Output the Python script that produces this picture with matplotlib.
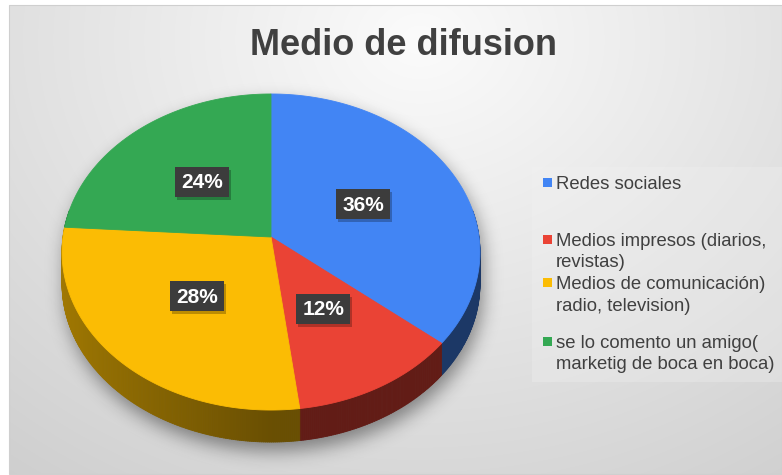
import numpy as np
import matplotlib.pyplot as plt
from matplotlib.patches import Polygon, Rectangle
from matplotlib.collections import PolyCollection
from matplotlib.path import Path
from matplotlib.colors import to_rgb

# chart data
title = 'Medio de difusion'
categories = ['Redes sociales',
              'Medios impresos (diarios,\nrevistas)',
              'Medios de comunicación)\nradio, television)',
              'se lo comento un amigo(\nmarketig de boca en boca)']
shares = [36, 12, 28, 24]
colors = ['#4285F4', '#EA4335', '#FBBC04', '#34A853']

plt.rcParams['font.family'] = ['Liberation Sans', 'DejaVu Sans']

W, H = 782, 475
fig = plt.figure(figsize=(W / 100, H / 100), dpi=100)
ax = fig.add_axes([0, 0, 1, 1])
ax.set_xlim(0, W)
ax.set_ylim(H, 0)
ax.axis('off')

# chart area (pixel units), pie geometry
x0, x1, y0, y1 = 9, 782, 5, 474
cx, cy = 271, 237
rx, ry = 208, 156.6
persp = 0.095
depth = 32


def project(t_deg, f=1.0):
    t = np.radians(t_deg)
    X = f * np.cos(t)
    Y = f * np.sin(t)
    w = 1 + persp * Y
    return cx + rx * X / w, cy - ry * Y / w


def blur(a, s):
    k = np.exp(-0.5 * (np.arange(-3 * s, 3 * s + 1) / s) ** 2)
    k /= k.sum()
    a = np.apply_along_axis(lambda r: np.convolve(r, k, mode='same'), 0, a)
    a = np.apply_along_axis(lambda r: np.convolve(r, k, mode='same'), 1, a)
    return a


# background gradient
yy, xx = np.mgrid[y0:y1, x0:x1] + 0.5
r = np.sqrt(((xx - 420) / 580) ** 2 + ((yy - 40) / 470) ** 2)
v = np.clip(0.985 - 0.15 * r, 0, 1)
bg = np.dstack([v, v, v])
ax.imshow(bg, extent=(x0, x1, y1, y0), origin='upper', zorder=0, aspect='auto')
ax.add_patch(Rectangle((x0, y0), x1 - x0, y1 - y0, fill=False,
                       edgecolor='#cfcfcf', lw=0.8, zorder=1))

# soft shadow under the pie
ts = np.linspace(0, 360, 361)
ex, ey = project(ts)
gy, gx = np.mgrid[0:H, 0:W] + 0.5
pts = np.column_stack([gx.ravel(), gy.ravel()])
mask = np.zeros(H * W, bool)
for off in range(0, depth + 1, 4):
    path = Path(np.column_stack([ex + 3, ey + off + 9]))
    mask |= path.contains_points(pts)
mask = blur(mask.reshape(H, W).astype(float), 9)
shadow = np.zeros((H, W, 4))
shadow[..., 3] = 0.42 * mask
ax.imshow(shadow, extent=(0, W, H, 0), origin='upper', zorder=2, aspect='auto')

# slice angles, clockwise from 12 o'clock
starts, ends = [], []
a = 90.0
for s in shares:
    starts.append(a)
    a -= s * 3.6
    ends.append(a)

# side walls
for c, hi, lo in zip(colors, starts, ends):
    hi2, lo2 = min(hi, 10), max(lo, -190)
    if hi2 <= lo2:
        continue
    tt = np.linspace(hi2, lo2, max(int((hi2 - lo2) * 2), 2))
    px, py = project(tt)
    quads, fcs = [], []
    base = np.array(to_rgb(c))
    for i in range(len(tt) - 1):
        quads.append([(px[i], py[i]), (px[i + 1], py[i + 1]),
                      (px[i + 1], py[i + 1] + depth), (px[i], py[i] + depth)])
        tm = np.radians(0.5 * (tt[i] + tt[i + 1]))
        f = 0.42 + 0.22 * max(0.0, -np.cos(tm))
        fcs.append(base * f)
    ax.add_collection(PolyCollection(quads, facecolors=fcs, edgecolors=fcs,
                                     lw=0.6, zorder=3))

# top faces
for c, hi, lo in zip(colors, starts, ends):
    tt = np.linspace(hi, lo, 200)
    px, py = project(tt)
    verts = [(cx, cy)] + list(zip(px, py))
    ax.add_patch(Polygon(verts, closed=True, facecolor=c, edgecolor=c,
                         lw=0.6, zorder=4))

# percentage labels
for s, hi, lo in zip(shares, starts, ends):
    lx, ly = project(0.5 * (hi + lo), 0.5)
    bw, bh = 54, 30
    ax.add_patch(Rectangle((lx - bw / 2 + 2, ly - bh / 2 + 3), bw, bh,
                           facecolor='black', alpha=0.25, lw=0, zorder=5))
    ax.add_patch(Rectangle((lx - bw / 2, ly - bh / 2), bw, bh,
                           facecolor='#3c3c3c', lw=0, zorder=6))
    ax.text(lx, ly + 1, f'{s}%', color='white', fontsize=15,
            fontweight='bold', ha='center', va='center', zorder=7)

# title
ax.text(403, 55, title, fontsize=26, fontweight='bold', color='#404040',
        ha='center', va='baseline', zorder=7)

# legend
ax.add_patch(Rectangle((532, 167), 250, 215, facecolor='#f2f2f2', alpha=0.3,
                       lw=0, zorder=1))
baselines = [[189], [246, 267], [289, 311], [348, 369]]
for c, label, bl in zip(colors, categories, baselines):
    ax.add_patch(Rectangle((543, bl[0] - 11), 9, 9, facecolor=c, lw=0, zorder=7))
    for line, b in zip(label.split('\n'), bl):
        ax.text(556, b, line, fontsize=13.3, color='#404040',
                ha='left', va='baseline', zorder=7)

fig.savefig('out.png', dpi=100, facecolor='white')
